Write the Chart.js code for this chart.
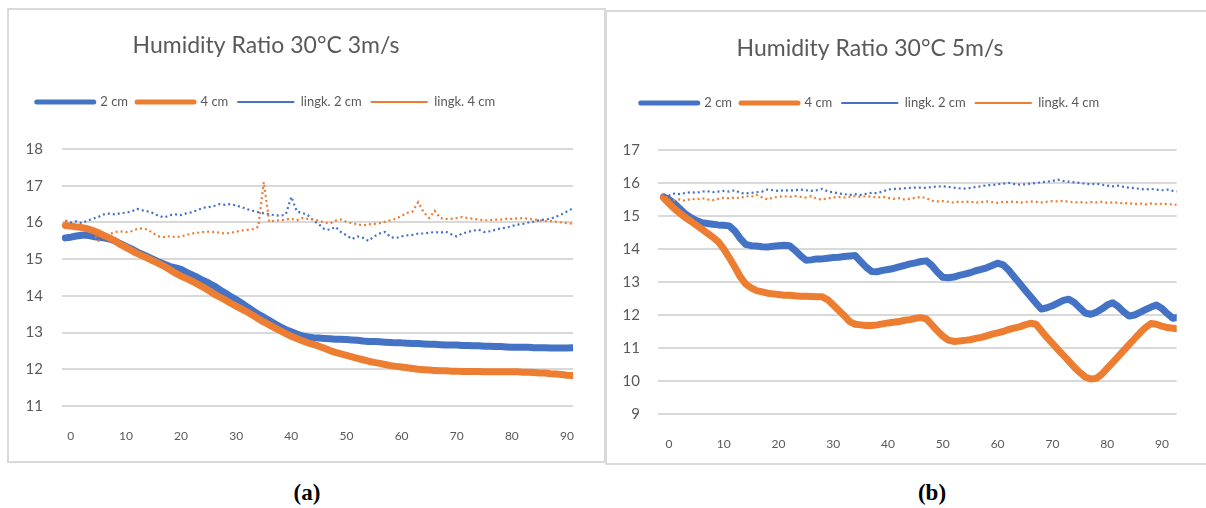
<!DOCTYPE html>
<html>
<head>
<meta charset="utf-8">
<title>Humidity Ratio 30°C</title>
<script src="https://cdn.jsdelivr.net/npm/chart.js@4.4.1/dist/chart.umd.min.js"></script>
<style>
  html, body { margin: 0; padding: 0; background: #fff; }
  body { position: relative; width: 1206px; height: 508px; overflow: hidden; }
  .frame { position: absolute; border: 2px solid #d9d9d9; box-sizing: border-box; }
  #frameA { left: 7px; top: 8px; width: 599px; height: 455px; }
  #frameB { left: 605px; top: 10px; width: 610px; height: 455px; }
  canvas { position: absolute; top: 0; }
  #chartA { left: -51px; }
  #chartB { left: 560px; }
  .caption { position: absolute; top: 480px; font: bold 23px "Liberation Serif", "Times New Roman", serif; color: #000; transform: translateX(-50%); }
  #capA { left: 307px; }
  #capB { left: 932px; }
</style>
</head>
<body>
<div class="frame" id="frameA"></div>
<div class="frame" id="frameB"></div>
<canvas id="chartA" width="640" height="470"></canvas>
<canvas id="chartB" width="624" height="470"></canvas>
<div class="caption" id="capA">(a)</div>
<div class="caption" id="capB">(b)</div>

<script>
// ---- series names and labels ----
const seriesLabels = ['2 cm', '4 cm', 'lingk. 2 cm', 'lingk. 4 cm'];
const titleA = 'Humidity Ratio 30°C 3m/s';
const titleB = 'Humidity Ratio 30°C 5m/s';
const xTickValues = [0, 10, 20, 30, 40, 50, 60, 70, 80, 90];
const yTicksA = [11, 12, 13, 14, 15, 16, 17, 18];
const yTicksB = [9, 10, 11, 12, 13, 14, 15, 16, 17];

// ---- panel (a): 3 m/s ----
const timeA = [-1, 0, 1, 2, 3, 4, 5, 6, 7, 8, 9, 10, 11, 12, 13, 14, 15, 16, 17, 18, 19, 20,
  21, 22, 23, 24, 25, 26, 27, 28, 29, 30, 31, 32, 33, 34, 35, 36, 37, 38, 39, 40,
  41, 42, 43, 44, 45, 46, 47, 48, 49, 50, 51, 52, 53, 54, 55, 56, 57, 58, 59, 60,
  61, 62, 63, 64, 65, 66, 67, 68, 69, 70, 71, 72, 73, 74, 75, 76, 77, 78, 79, 80,
  81, 82, 83, 84, 85, 86, 87, 88, 89, 90, 91];

const ratio2cmA = [15.58, 15.60, 15.63, 15.65, 15.65, 15.62, 15.60, 15.58, 15.55, 15.50, 15.42, 15.35,
  15.28, 15.20, 15.13, 15.06, 14.99, 14.92, 14.86, 14.80, 14.76, 14.72,
  14.64, 14.57, 14.50, 14.42, 14.35, 14.27, 14.17, 14.08, 13.98, 13.90,
  13.80, 13.70, 13.60, 13.50, 13.42, 13.33, 13.24, 13.16, 13.08, 13.02,
  12.96, 12.91, 12.88, 12.86, 12.85, 12.84, 12.83, 12.82, 12.82, 12.81,
  12.80, 12.79, 12.77, 12.76, 12.76, 12.75, 12.74, 12.73, 12.72, 12.72,
  12.71, 12.70, 12.70, 12.69, 12.68, 12.68, 12.67, 12.66, 12.66, 12.66,
  12.65, 12.65, 12.64, 12.64, 12.63, 12.63, 12.62, 12.62, 12.61, 12.60,
  12.60, 12.60, 12.60, 12.59, 12.59, 12.59, 12.58, 12.58, 12.58, 12.58, 12.59];

const ratio4cmA = [15.92, 15.90, 15.88, 15.86, 15.83, 15.78, 15.72, 15.65, 15.58, 15.50, 15.40, 15.32,
  15.24, 15.16, 15.09, 15.02, 14.95, 14.88, 14.80, 14.71, 14.62, 14.54,
  14.47, 14.40, 14.32, 14.24, 14.15, 14.05, 13.97, 13.89, 13.80, 13.72,
  13.64, 13.56, 13.47, 13.38, 13.29, 13.21, 13.13, 13.05, 12.97, 12.90,
  12.84, 12.78, 12.72, 12.68, 12.63, 12.57, 12.51, 12.46, 12.42, 12.38,
  12.34, 12.30, 12.26, 12.22, 12.19, 12.16, 12.13, 12.10, 12.08, 12.06,
  12.04, 12.02, 12.00, 11.99, 11.98, 11.97, 11.96, 11.96, 11.95, 11.95,
  11.94, 11.94, 11.94, 11.94, 11.93, 11.93, 11.93, 11.93, 11.93, 11.93,
  11.93, 11.92, 11.92, 11.91, 11.90, 11.90, 11.88, 11.87, 11.86, 11.84, 11.83];

const ambient2cmA = [16.05, 16.00, 16.03, 15.98, 16.05, 16.10, 16.15, 16.22, 16.24, 16.22, 16.25, 16.27,
  16.30, 16.37, 16.33, 16.30, 16.25, 16.17, 16.14, 16.20, 16.22, 16.20,
  16.25, 16.28, 16.34, 16.40, 16.42, 16.45, 16.50, 16.48, 16.50, 16.46,
  16.42, 16.36, 16.32, 16.28, 16.25, 16.22, 16.20, 16.18, 16.22, 16.70,
  16.30, 16.26, 16.20, 16.05, 15.95, 15.82, 15.80, 15.88, 15.74, 15.65,
  15.55, 15.62, 15.58, 15.50, 15.62, 15.70, 15.74, 15.60, 15.58, 15.62,
  15.65, 15.66, 15.70, 15.70, 15.72, 15.74, 15.72, 15.75, 15.68, 15.62,
  15.70, 15.74, 15.78, 15.80, 15.74, 15.76, 15.80, 15.84, 15.86, 15.90,
  15.94, 15.96, 16.00, 16.02, 16.06, 16.08, 16.10, 16.16, 16.22, 16.30, 16.38];

const ambient4cmA = [16.05, 15.92, 15.88, 15.82, 15.80, 15.72, 15.50, 15.60, 15.68, 15.74, 15.76, 15.74,
  15.76, 15.82, 15.84, 15.80, 15.70, 15.62, 15.60, 15.63, 15.60, 15.62,
  15.66, 15.70, 15.72, 15.74, 15.75, 15.74, 15.72, 15.70, 15.72, 15.75,
  15.78, 15.80, 15.82, 15.88, 17.10, 16.02, 16.05, 16.06, 16.08, 16.10,
  16.06, 16.12, 16.10, 16.08, 16.05, 16.00, 15.97, 16.05, 16.08, 16.02,
  15.98, 15.95, 15.92, 15.95, 15.96, 15.98, 16.02, 16.06, 16.10, 16.18,
  16.26, 16.30, 16.55, 16.28, 16.12, 16.32, 16.12, 16.10, 16.10, 16.12,
  16.15, 16.12, 16.10, 16.08, 16.06, 16.06, 16.08, 16.08, 16.10, 16.10,
  16.11, 16.12, 16.10, 16.08, 16.06, 16.04, 16.04, 16.02, 16.00, 15.98, 15.97];

// ---- panel (b): 5 m/s ----
const timeB = [-1, 0, 1, 2, 3, 4, 5, 6, 7, 8, 9, 10, 11, 12, 13, 14, 15, 16, 17, 18, 19, 20,
  21, 22, 23, 24, 25, 26, 27, 28, 29, 30, 31, 32, 33, 34, 35, 36, 37, 38, 39, 40,
  41, 42, 43, 44, 45, 46, 47, 48, 49, 50, 51, 52, 53, 54, 55, 56, 57, 58, 59, 60,
  61, 62, 63, 64, 65, 66, 67, 68, 69, 70, 71, 72, 73, 74, 75, 76, 77, 78, 79, 80,
  81, 82, 83, 84, 85, 86, 87, 88, 89, 90, 91, 92, 93];

const ratio2cmB = [15.58, 15.50, 15.38, 15.22, 15.06, 14.95, 14.86, 14.80, 14.77, 14.75, 14.73, 14.72,
  14.70, 14.55, 14.32, 14.14, 14.10, 14.09, 14.07, 14.06, 14.08, 14.10,
  14.11, 14.10, 13.96, 13.80, 13.66, 13.67, 13.70, 13.70, 13.72, 13.74,
  13.75, 13.77, 13.79, 13.80, 13.62, 13.45, 13.32, 13.31, 13.35, 13.38,
  13.41, 13.46, 13.50, 13.55, 13.58, 13.62, 13.64, 13.50, 13.30, 13.14,
  13.13, 13.15, 13.20, 13.24, 13.28, 13.34, 13.38, 13.43, 13.50, 13.57,
  13.52, 13.36, 13.16, 12.96, 12.76, 12.56, 12.36, 12.18, 12.22, 12.28,
  12.36, 12.44, 12.48, 12.38, 12.22, 12.06, 12.02, 12.08, 12.18, 12.30,
  12.37, 12.26, 12.10, 11.97, 12.00, 12.08, 12.16, 12.24, 12.30, 12.20,
  12.04, 11.90, 11.93, 12.02];

const ratio4cmB = [15.55, 15.38, 15.22, 15.08, 14.95, 14.84, 14.72, 14.60, 14.48, 14.36, 14.22, 14.00,
  13.74, 13.46, 13.16, 12.94, 12.82, 12.74, 12.70, 12.66, 12.64, 12.62,
  12.60, 12.60, 12.58, 12.57, 12.57, 12.56, 12.55, 12.55, 12.46, 12.30,
  12.14, 11.98, 11.80, 11.72, 11.70, 11.68, 11.68, 11.70, 11.73, 11.76,
  11.78, 11.80, 11.84, 11.86, 11.90, 11.92, 11.88, 11.70, 11.52, 11.36,
  11.24, 11.20, 11.21, 11.23, 11.25, 11.29, 11.32, 11.37, 11.42, 11.46,
  11.50, 11.56, 11.60, 11.64, 11.70, 11.75, 11.72, 11.52, 11.32, 11.14,
  10.96, 10.78, 10.60, 10.42, 10.26, 10.12, 10.06, 10.08, 10.20, 10.38,
  10.56, 10.74, 10.92, 11.10, 11.28, 11.46, 11.62, 11.74, 11.72, 11.66,
  11.62, 11.60, 11.58];

const ambient2cmB = [15.65, 15.62, 15.68, 15.66, 15.70, 15.72, 15.70, 15.74, 15.75, 15.72, 15.74, 15.76,
  15.74, 15.78, 15.70, 15.68, 15.70, 15.72, 15.74, 15.80, 15.78, 15.76,
  15.78, 15.77, 15.78, 15.80, 15.78, 15.76, 15.78, 15.82, 15.74, 15.72,
  15.68, 15.66, 15.64, 15.66, 15.64, 15.67, 15.70, 15.69, 15.74, 15.80,
  15.82, 15.82, 15.84, 15.85, 15.86, 15.86, 15.85, 15.88, 15.89, 15.90,
  15.88, 15.86, 15.84, 15.83, 15.85, 15.88, 15.90, 15.93, 15.94, 15.96,
  15.98, 16.00, 15.97, 15.95, 15.96, 15.98, 16.00, 16.02, 16.04, 16.06,
  16.10, 16.06, 16.04, 16.02, 16.00, 15.98, 15.96, 15.98, 15.95, 15.92,
  15.90, 15.92, 15.88, 15.86, 15.84, 15.82, 15.80, 15.82, 15.80, 15.78,
  15.80, 15.76, 15.74];

const ambient4cmB = [15.55, 15.50, 15.48, 15.50, 15.46, 15.52, 15.50, 15.54, 15.50, 15.48, 15.52, 15.55,
  15.53, 15.56, 15.54, 15.60, 15.58, 15.64, 15.56, 15.50, 15.56, 15.58,
  15.60, 15.58, 15.60, 15.58, 15.56, 15.60, 15.52, 15.50, 15.54, 15.56,
  15.58, 15.56, 15.58, 15.60, 15.58, 15.60, 15.58, 15.56, 15.58, 15.55,
  15.52, 15.54, 15.50, 15.52, 15.55, 15.58, 15.54, 15.46, 15.44, 15.45,
  15.43, 15.40, 15.44, 15.42, 15.44, 15.40, 15.42, 15.44, 15.42, 15.40,
  15.43, 15.42, 15.44, 15.40, 15.42, 15.44, 15.43, 15.41, 15.43, 15.45,
  15.44, 15.46, 15.43, 15.41, 15.42, 15.40, 15.42, 15.41, 15.43, 15.40,
  15.41, 15.40, 15.38, 15.39, 15.36, 15.38, 15.35, 15.38, 15.36, 15.37,
  15.36, 15.35, 15.34];

// ---- styling ----
const BLUE = '#4472C4';
const ORANGE = '#ED7D31';
const TEXT = '#595959';
const GRID = '#d9d9d9';
const FONT = 'Lato, "Open Sans", sans-serif';

function pairs(xs, ys) {
  return xs.map((x, i) => ({ x: x, y: ys[i] }));
}

function makeDatasets(times, r2, r4, a2, a4) {
  const solid = { borderWidth: 7, pointRadius: 0, borderCapStyle: 'round', borderJoinStyle: 'round', tension: 0 };
  const dotted = { borderWidth: 2.2, pointRadius: 0, borderDash: [2, 3], tension: 0 };
  // Later series sit on top: lower order is drawn last.
  return [
    Object.assign({ label: seriesLabels[0], data: pairs(times, r2), borderColor: BLUE, backgroundColor: BLUE, order: 4 }, solid),
    Object.assign({ label: seriesLabels[1], data: pairs(times, r4), borderColor: ORANGE, backgroundColor: ORANGE, order: 3 }, solid),
    Object.assign({ label: seriesLabels[2], data: pairs(times, a2), borderColor: BLUE, backgroundColor: BLUE, order: 2 }, dotted),
    Object.assign({ label: seriesLabels[3], data: pairs(times, a4), borderColor: ORANGE, backgroundColor: ORANGE, order: 1 }, dotted)
  ];
}

function legendItems(chart) {
  const items = Chart.defaults.plugins.legend.labels.generateLabels(chart);
  return items.map(item => {
    const ds = chart.data.datasets[item.datasetIndex];
    item.pointStyle = 'line';
    item.lineWidth = ds.borderDash ? 2 : 5;
    item.lineCap = ds.borderDash ? 'butt' : 'round';
    item.fontColor = TEXT;
    return item;
  });
}

function makeChart(canvasId, cfg) {
  return new Chart(document.getElementById(canvasId), {
    type: 'line',
    data: { datasets: cfg.datasets },
    options: {
      responsive: false,
      animation: false,
      events: [],
      layout: { padding: { left: 0, right: cfg.padRight, top: 0, bottom: cfg.padBottom } },
      plugins: {
        title: {
          display: true,
          text: cfg.title,
          color: TEXT,
          font: { family: FONT, size: 23, weight: 'normal' },
          padding: { top: cfg.titleTop, bottom: cfg.titleBottom }
        },
        legend: {
          position: 'top',
          labels: {
            usePointStyle: true,
            pointStyleWidth: 57,
            padding: 9,
            color: TEXT,
            font: { family: FONT, size: 13 },
            generateLabels: legendItems,
            sort: (a, b) => a.datasetIndex - b.datasetIndex
          }
        },
        tooltip: { enabled: false }
      },
      scales: {
        x: {
          type: 'linear',
          min: cfg.xMin,
          max: cfg.xMax,
          grid: { display: false },
          border: { display: false },
          ticks: { color: TEXT, font: { family: FONT, size: 12 }, padding: 15, maxRotation: 0 },
          afterBuildTicks: s => { s.ticks = xTickValues.map(v => ({ value: v })); },
          afterFit: s => { s.height = 40; }
        },
        y: {
          min: cfg.yMin,
          max: cfg.yMax,
          grid: { color: GRID, lineWidth: 2, drawTicks: false },
          border: { display: false },
          ticks: { color: TEXT, font: { family: FONT, size: 15 }, padding: cfg.yPad },
          afterBuildTicks: s => { s.ticks = cfg.yTicks.map(v => ({ value: v })); },
          afterFit: s => { s.width = cfg.yWidth; }
        }
      }
    }
  });
}

makeChart('chartA', {
  title: titleA,
  datasets: makeDatasets(timeA, ratio2cmA, ratio4cmA, ambient2cmA, ambient4cmA),
  padRight: 6, padBottom: 24,
  titleTop: 32, titleBottom: 27,
  xMin: -1.6, xMax: 91.1,
  yMin: 11, yMax: 18.83, yTicks: yTicksA,
  yWidth: 113, yPad: 19
});

makeChart('chartB', {
  title: titleB,
  datasets: makeDatasets(timeB, ratio2cmB, ratio4cmB, ambient2cmB, ambient4cmB),
  padRight: 4, padBottom: 16,
  titleTop: 35, titleBottom: 25,
  xMin: -2.0, xMax: 92.7,
  yMin: 9, yMax: 17.92, yTicks: yTicksB,
  yWidth: 98, yPad: 18
});
</script>
</body>
</html>
